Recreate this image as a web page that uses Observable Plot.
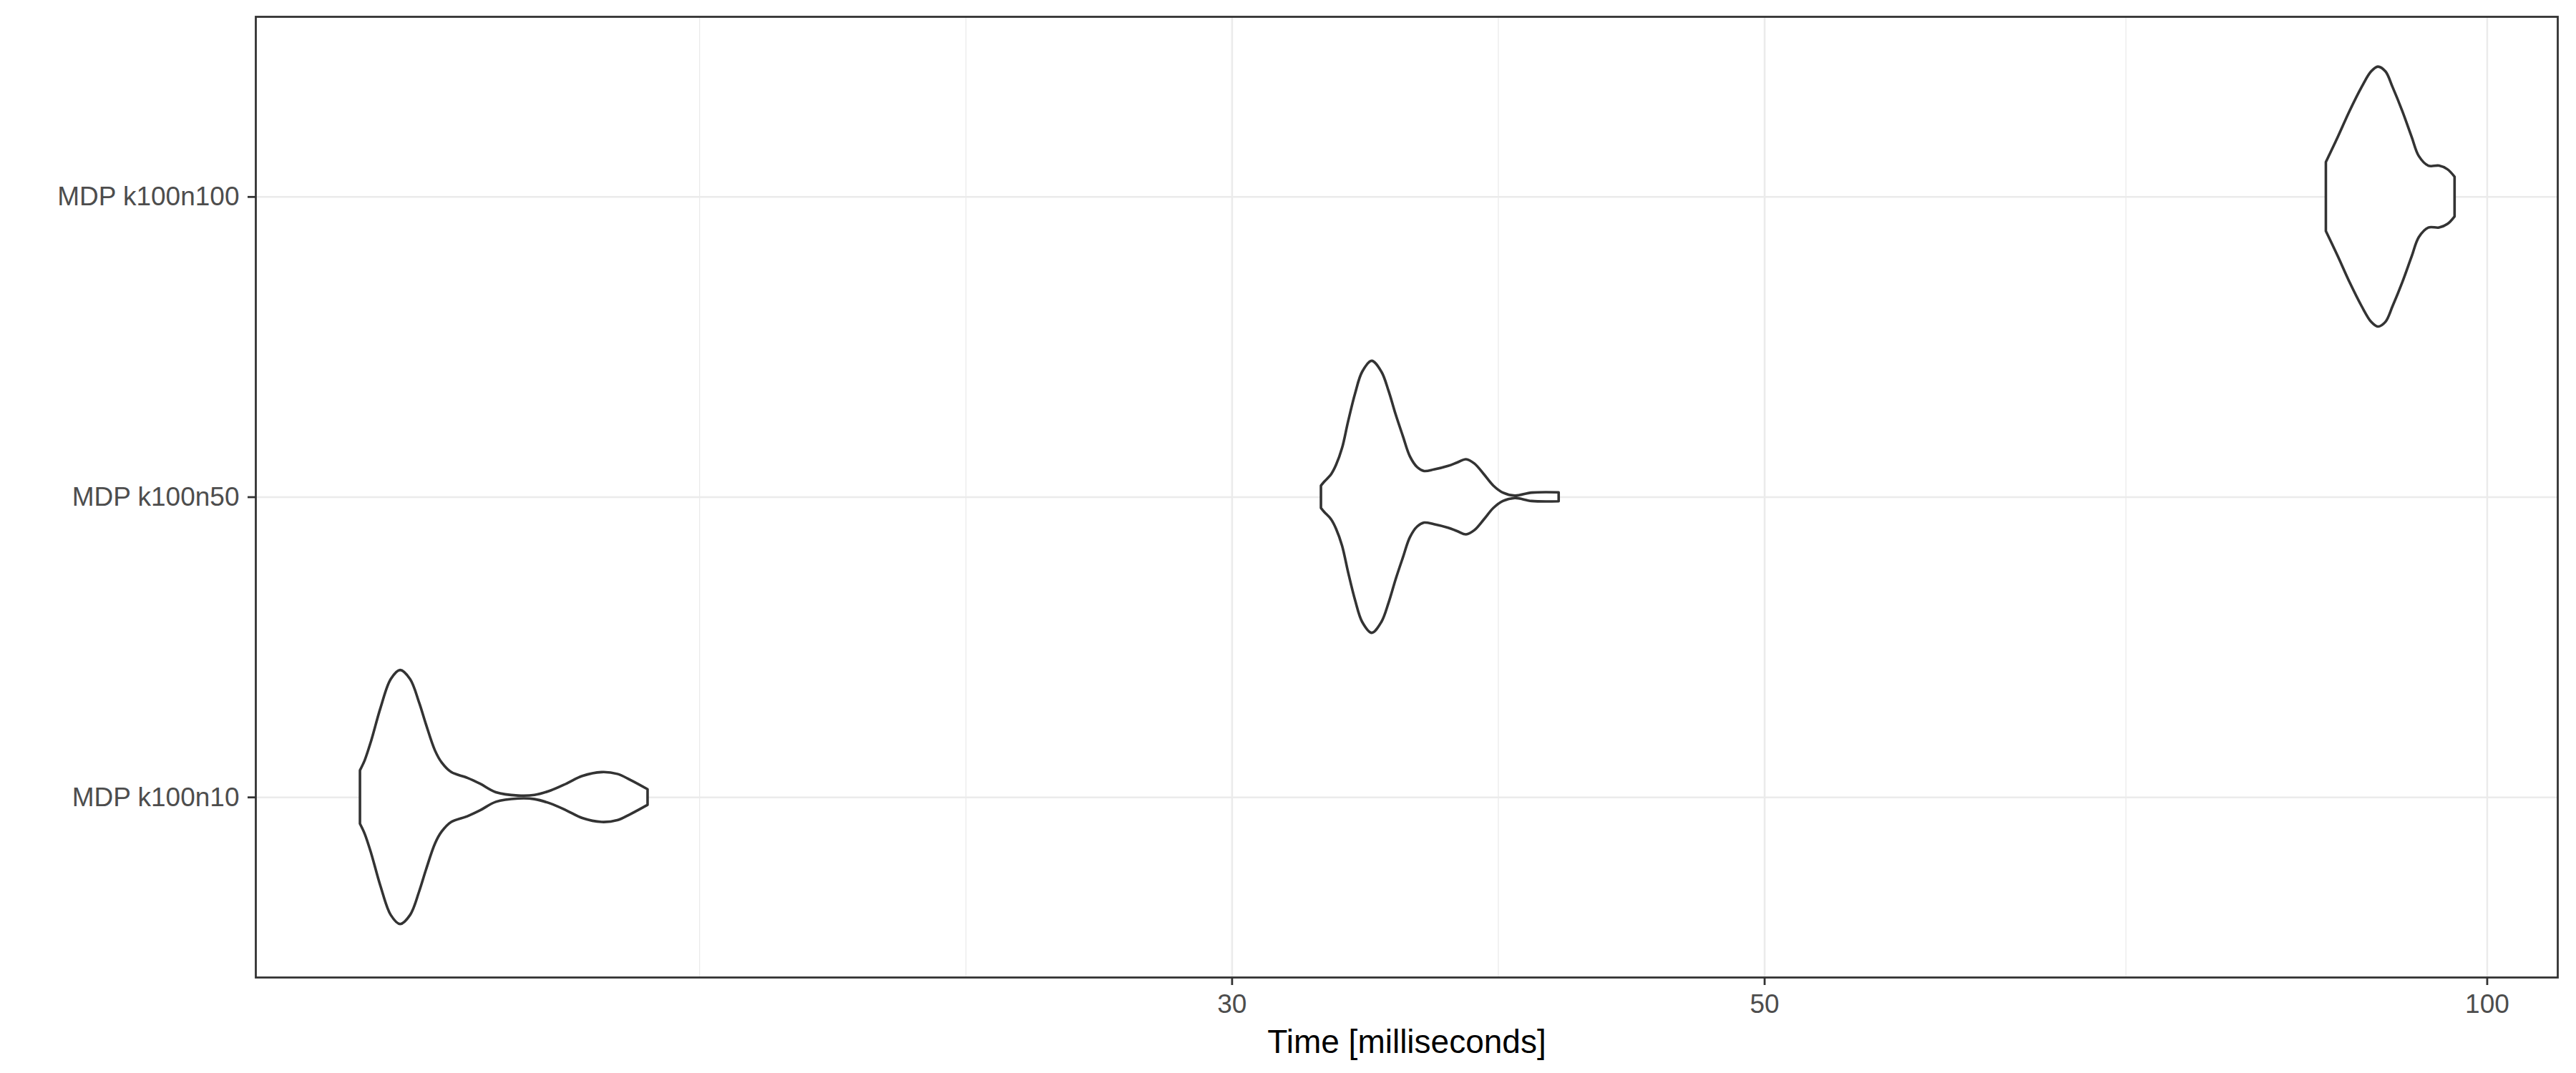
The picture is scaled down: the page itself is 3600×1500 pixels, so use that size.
<!DOCTYPE html>
<html>
<head>
<meta charset="utf-8">
<script src="https://cdn.jsdelivr.net/npm/d3@7"></script>
<script src="https://cdn.jsdelivr.net/npm/@observablehq/plot@0.6"></script>
<style>
  html, body { margin: 0; padding: 0; background: #fff; }
  #chart svg { display: block; }
  g[aria-label="x-axis tick label"], g[aria-label="y-axis tick label"] { fill: #4D4D4D; }
  g[aria-label="x-axis label"] { fill: #000; font-size: 46px; }
</style>
</head>
<body>
<div id="chart"></div>
<script>
// Categories (bottom to top)
const groups = ["MDP k100n10", "MDP k100n50", "MDP k100n100"];

// Violin outlines: time (ms) and half-width (density scaled, in category units)
const n10Time  = [13.00, 13.06, 13.14, 13.26, 13.39, 13.51, 13.64, 13.76, 13.85, 13.97, 14.06, 14.19, 14.41, 14.59, 14.81, 15.13, 15.37, 15.61, 15.85, 16.09, 16.39, 16.64, 16.84, 17.13];
const n10Width = [0.089, 0.123, 0.187, 0.298, 0.393, 0.423, 0.393, 0.314, 0.242, 0.155, 0.115, 0.083, 0.064, 0.044, 0.016, 0.005, 0.007, 0.022, 0.045, 0.070, 0.083, 0.077, 0.058, 0.026];

const n50Time  = [32.68, 32.78, 33.00, 33.16, 33.35, 33.54, 33.77, 34.00, 34.31, 34.63, 34.87, 35.11, 35.35, 35.59, 35.84, 36.08, 36.42, 36.92, 37.26, 37.56, 37.86, 38.21, 38.56, 38.91, 39.36, 40.00, 41.05];
const n50Width = [0.037, 0.050, 0.075, 0.107, 0.163, 0.250, 0.345, 0.417, 0.453, 0.417, 0.353, 0.274, 0.203, 0.135, 0.099, 0.086, 0.091, 0.103, 0.115, 0.125, 0.111, 0.075, 0.037, 0.014, 0.004, 0.014, 0.015];

const n100Time  = [85.69, 86.68, 87.67, 88.68, 89.49, 90.07, 90.73, 91.35, 92.20, 93.04, 93.68, 94.54, 95.52, 96.29, 96.95];
const n100Width = [0.115, 0.199, 0.286, 0.365, 0.417, 0.433, 0.417, 0.365, 0.286, 0.199, 0.135, 0.103, 0.103, 0.091, 0.066];

// Axis breaks and limits
const xMajorTicks = [30, 50, 100];
const xMinorTicks = [18.0, 23.24, 38.73, 70.71];
const xLimits = [11.76, 107.0];
const xTitle = "Time [milliseconds]";

const series = [
  {group: groups[0], time: n10Time, width: n10Width},
  {group: groups[1], time: n50Time, width: n50Width},
  {group: groups[2], time: n100Time, width: n100Width}
];
const rows = series.flatMap((s) => {
  const pos = groups.indexOf(s.group) + 1;
  return s.time.map((t, i) => ({group: s.group, t, lo: pos - s.width[i], hi: pos + s.width[i]}));
});
const yTicks = groups.map((g, i) => i + 1);

const chart = Plot.plot({
  width: 3600,
  height: 1500,
  marginLeft: 357,
  marginRight: 26,
  marginTop: 23,
  marginBottom: 134,
  style: {fontFamily: "'Liberation Sans', Arial, sans-serif", fontSize: "37px", background: "#fff", color: "#333333"},
  x: {type: "log", domain: xLimits},
  y: {domain: [0.4, groups.length + 0.6]},
  marks: [
    Plot.gridX(xMinorTicks, {stroke: "#EBEBEB", strokeOpacity: 1, strokeWidth: 1.3}),
    Plot.gridX(xMajorTicks, {stroke: "#EBEBEB", strokeOpacity: 1, strokeWidth: 2.6}),
    Plot.gridY(yTicks, {stroke: "#EBEBEB", strokeOpacity: 1, strokeWidth: 2.6}),
    Plot.areaY(rows, {x: "t", y1: "lo", y2: "hi", z: "group", fill: "#fff", stroke: "#333333", strokeWidth: 3.6, strokeLinejoin: "round", curve: "catmull-rom"}),
    Plot.frame({stroke: "#333333", strokeWidth: 2.8}),
    Plot.axisX(xMajorTicks, {tickSize: 11, tickPadding: 12, strokeWidth: 2.8, fontSize: 37, tickFormat: (d) => String(d), label: xTitle, labelAnchor: "center", labelOffset: 105, labelArrow: "none"}),
    Plot.axisY(yTicks, {tickSize: 11, tickPadding: 12, strokeWidth: 2.8, fontSize: 37, tickFormat: (d) => groups[d - 1], label: null})
  ]
});
document.getElementById("chart").appendChild(chart);
</script>
</body>
</html>
